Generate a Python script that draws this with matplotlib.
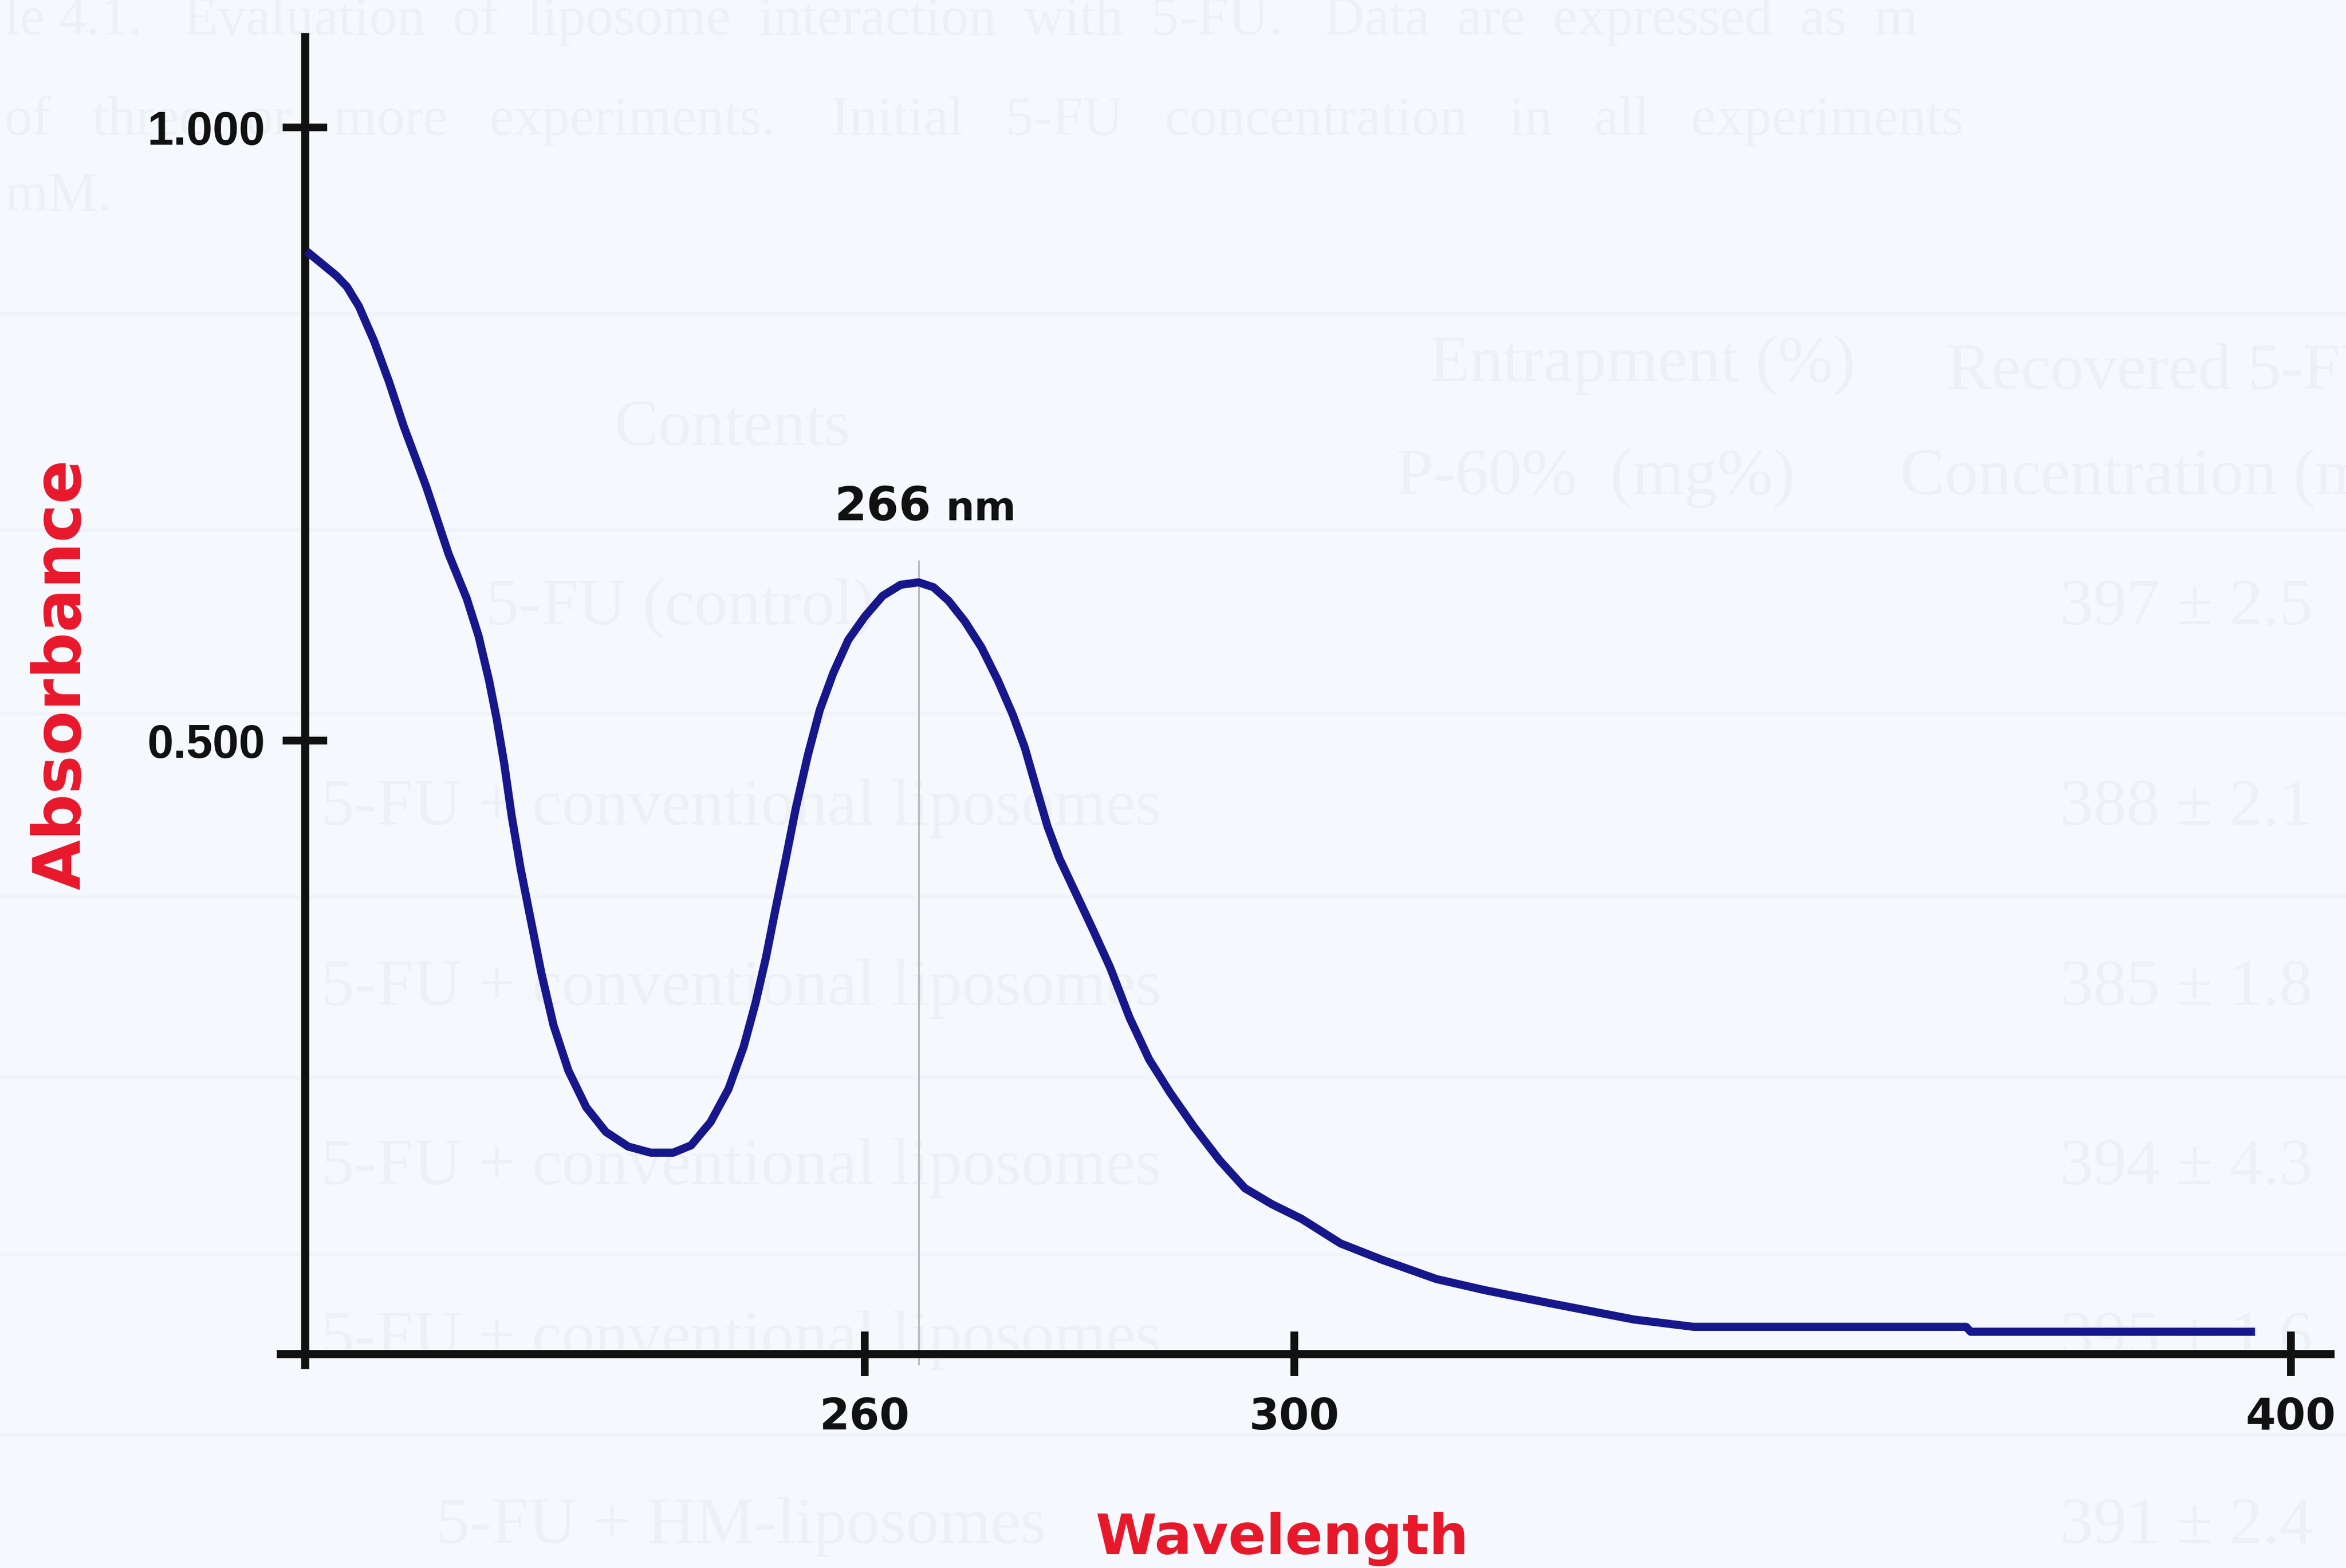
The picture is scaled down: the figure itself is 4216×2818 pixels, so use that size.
import numpy as np
import matplotlib
matplotlib.use("Agg")
import matplotlib.pyplot as plt
from matplotlib.lines import Line2D

# ---- spectrum data -------------------------------------------------------
wavelength_nm = [210.16, 211.50, 212.83, 213.77, 214.84, 216.18, 217.51, 218.85,
                 220.85, 222.85, 224.46, 225.53, 226.46, 227.13, 227.80, 228.47,
                 229.27, 230.20, 231.14, 232.21, 233.54, 235.14, 236.88, 238.88,
                 240.89, 242.90, 244.50, 246.24, 247.84, 249.18, 250.25, 251.18,
                 251.98, 252.92, 253.85, 254.92, 255.99, 257.19, 258.53, 260.00,
                 262.00, 264.00, 266.00, 267.35, 268.71, 270.20, 271.69, 273.18,
                 274.53, 275.62, 276.70, 277.67, 278.74, 280.10, 281.72, 283.34,
                 285.10, 286.87, 288.76, 290.93, 293.23, 295.54, 297.98, 300.75,
                 304.65, 308.71, 314.26, 319.07, 325.83, 334.08, 340.09, 367.42,
                 367.87, 396.40]
absorbance = [0.899, 0.889, 0.879, 0.870, 0.854, 0.826, 0.793, 0.756,
              0.707, 0.652, 0.616, 0.585, 0.549, 0.518, 0.482, 0.439,
              0.396, 0.353, 0.310, 0.268, 0.231, 0.201, 0.181, 0.169,
              0.164, 0.164, 0.170, 0.189, 0.216, 0.250, 0.286, 0.323,
              0.360, 0.402, 0.445, 0.488, 0.525, 0.555, 0.582, 0.601,
              0.618, 0.627, 0.629, 0.625, 0.614, 0.597, 0.576, 0.549,
              0.521, 0.494, 0.460, 0.430, 0.404, 0.378, 0.347, 0.315,
              0.274, 0.240, 0.213, 0.185, 0.158, 0.135, 0.122, 0.110,
              0.090, 0.077, 0.061, 0.052, 0.041, 0.028, 0.022, 0.022,
              0.018, 0.018]

peak_nm = 266
peak_abs = 0.629
peak_label = "266"
peak_unit = "nm"

x_ticks = [260, 300, 400]
x_tick_labels = ["260", "300", "400"]
y_ticks = [0.5, 1.0]
y_tick_labels = ["0.500", "1.000"]

x_label = "Wavelength"
y_label = "Absorbance"

# instrument's wavelength axis calibration (nm -> plot units)
scale_nm = [150, 210, 260, 266, 300, 400, 460]
scale_units = [203.8 - 60 * 7.484, 203.8, 578, 614, 865, 1531, 1531 + 60 * 6.66]


def nm_to_units(x):
    return np.interp(x, scale_nm, scale_units)


def units_to_nm(u):
    return np.interp(u, scale_units, scale_nm)


# ---- faint text from the page underneath -----------------------------------
page_lines = [
    (0.002, 0.978, "le 4.1.   Evaluation  of  liposome  interaction  with  5-FU.   Data  are  expressed  as  m", 72),
    (0.002, 0.914, "of   three   or   more   experiments.    Initial   5-FU   concentration   in   all   experiments", 72),
    (0.002, 0.866, "mM.", 72),
]
table_cells = [
    (0.312, 0.716, "Contents", "center"),
    (0.700, 0.757, "Entrapment (%)", "center"),
    (0.830, 0.752, "Recovered 5-FU", "left"),
    (0.680, 0.685, "P-60%  (mg%)", "center"),
    (0.810, 0.685, "Concentration (mM)", "left"),
    (0.290, 0.602, "5-FU (control)", "center"),
    (0.316, 0.474, "5-FU + conventional liposomes", "center"),
    (0.316, 0.359, "5-FU + conventional liposomes", "center"),
    (0.316, 0.245, "5-FU + conventional liposomes", "center"),
    (0.316, 0.135, "5-FU + conventional liposomes", "center"),
    (0.316, 0.016, "5-FU + HM-liposomes", "center"),
    (0.878, 0.602, "397 ± 2.5", "left"),
    (0.878, 0.474, "388 ± 2.1", "left"),
    (0.878, 0.359, "385 ± 1.8", "left"),
    (0.878, 0.245, "394 ± 4.3", "left"),
    (0.878, 0.135, "395 ± 1.6", "left"),
    (0.878, 0.016, "391 ± 2.4", "left"),
]
table_rules = [0.800, 0.662, 0.545, 0.428, 0.313, 0.200, 0.085]

page_bg = "#f5f8fc"
ghost = "#edf0f5"
navy = "#17178c"
red = "#e8182b"
ink = "#111111"

fig = plt.figure(figsize=(42.16, 28.18), dpi=100, facecolor=page_bg)

for x, y, s, fs in page_lines:
    fig.text(x, y, s, fontsize=fs, family="Liberation Serif", color=ghost,
             va="baseline", ha="left", zorder=-2)
for x, y, s, ha in table_cells:
    fig.text(x, y, s, fontsize=86, family="Liberation Serif", color=ghost,
             va="baseline", ha=ha, zorder=-2)
for y in table_rules:
    fig.add_artist(Line2D([0.0, 1.0], [y, y], color="#f0f3f7", lw=5, zorder=-3))

# ---- spectrum axes ---------------------------------------------------------
ax = fig.add_axes([0.1179, 0.12704, 0.8771, 0.85202])
ax.patch.set_alpha(0)
ax.set_xscale("function", functions=(nm_to_units, units_to_nm))
ax.set_xlim(207.49, 404.35)
ax.set_ylim(-0.0122, 1.077)

for side in ("top", "right"):
    ax.spines[side].set_visible(False)
ax.spines["left"].set_position(("data", 210))
ax.spines["bottom"].set_position(("data", 0))
for side in ("left", "bottom"):
    ax.spines[side].set_linewidth(10.5)
    ax.spines[side].set_color(ink)
    ax.spines[side].set_capstyle("butt")

ax.set_xticks(x_ticks)
ax.set_xticklabels(x_tick_labels)
ax.set_yticks(y_ticks)
ax.set_yticklabels(y_tick_labels)
ax.xaxis.set_minor_locator(matplotlib.ticker.NullLocator())
ax.yaxis.set_minor_locator(matplotlib.ticker.NullLocator())
ax.tick_params(axis="both", direction="inout", length=58, width=10, color=ink)
ax.tick_params(axis="x", pad=26)
ax.tick_params(axis="y", pad=22)
for lab in ax.get_xticklabels():
    lab.set_fontfamily("DejaVu Sans")
    lab.set_fontweight("bold")
    lab.set_fontsize(56)
    lab.set_color(ink)
for lab in ax.get_yticklabels():
    lab.set_fontfamily("Liberation Sans")
    lab.set_fontweight("bold")
    lab.set_fontsize(61)
    lab.set_color(ink)

# peak marker line and label
ax.vlines(peak_nm, -0.009, peak_abs + 0.018, color="#b8b8b8", lw=2.2, zorder=2,
          clip_on=False)
ax.annotate(peak_label, xy=(peak_nm, peak_abs), xytext=(16, 80),
            textcoords="offset points", ha="right", va="baseline",
            fontsize=60, fontweight="bold", family="DejaVu Sans", color=ink)
ax.annotate(peak_unit, xy=(peak_nm, peak_abs), xytext=(35, 80),
            textcoords="offset points", ha="left", va="baseline",
            fontsize=52, fontweight="bold", family="DejaVu Sans", color=ink)

# spectrum trace
ax.plot(wavelength_nm, absorbance, color=navy, lw=10.5, solid_joinstyle="round",
        solid_capstyle="butt", zorder=3, clip_on=False)

# axis titles
fig.text(0.0128, 0.5699, y_label, rotation=90, ha="left", va="center",
         fontsize=84, fontweight="bold", family="DejaVu Sans", color=red)
fig.text(0.5465, 0.009, x_label, ha="center", va="baseline",
         fontsize=72, fontweight="bold", family="DejaVu Sans", color=red)

fig.savefig("out.png", dpi=100, facecolor=page_bg)
